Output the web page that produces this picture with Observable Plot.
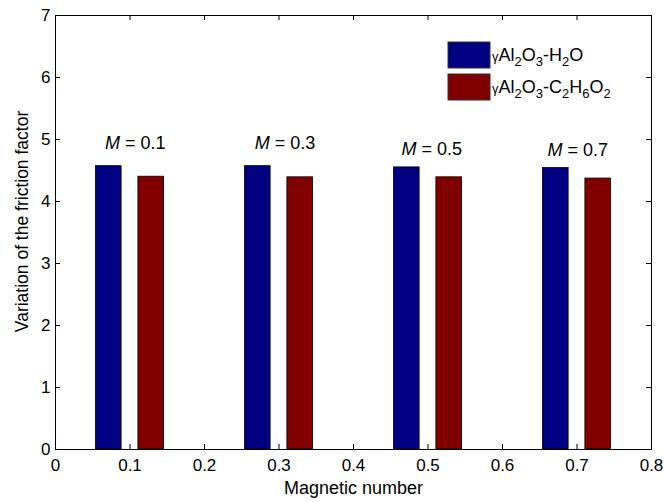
<!DOCTYPE html>
<html>
<head>
<meta charset="utf-8">
<script src="https://cdn.jsdelivr.net/npm/d3@7"></script>
<script src="https://cdn.jsdelivr.net/npm/@observablehq/plot@0.6"></script>
<style>
  html, body { margin: 0; padding: 0; background: #fff; }
  #chart { width: 665px; height: 502px; }
</style>
</head>
<body>
<div id="chart"></div>
<script>
// ---- data ----
const magnetic = [0.1, 0.3, 0.5, 0.7];
const h2o = [4.57, 4.57, 4.55, 4.54];
const eg = [4.40, 4.39, 4.39, 4.37];
const seriesNames = ["γAl2O3-H2O", "γAl2O3-C2H6O2"];
const seriesColors = ["#000080", "#800000"];
const xTicks = [0, 0.1, 0.2, 0.3, 0.4, 0.5, 0.6, 0.7, 0.8];
const yTicks = [0, 1, 2, 3, 4, 5, 6, 7];
const labelM = [0.107, 0.308, 0.505, 0.701];
const labelV = [4.94, 4.94, 4.84, 4.82];

// ---- layout ----
const W = 665, H = 502;
const mL = 55, mR = 14, mT = 15, mB = 53;
const fw = W - mL - mR, fh = H - mT - mB;
const barOffset = 0.0285, barWidth = 0.0345;
const font = "'Liberation Sans', Arial, sans-serif";

const bars = [];
magnetic.forEach((m, i) => {
  bars.push({m, v: h2o[i], s: 0});
  bars.push({m, v: eg[i], s: 1});
});
const labels = magnetic.map((m, i) => ({x: labelM[i], y: labelV[i], t: `M = ${m}`}));

const plot = Plot.plot({
  width: W, height: H,
  marginLeft: mL, marginRight: mR, marginTop: mT, marginBottom: mB,
  style: {fontFamily: font, fontSize: "17px", color: "#000", background: "#fff"},
  x: {domain: [0, 0.8]},
  y: {domain: [0, 7]},
  marks: [
    Plot.rectY(bars, {
      x1: d => d.m + (d.s === 0 ? -barOffset : barOffset) - barWidth / 2,
      x2: d => d.m + (d.s === 0 ? -barOffset : barOffset) + barWidth / 2,
      y1: 0, y2: "v",
      fill: d => seriesColors[d.s], stroke: "#000", strokeWidth: 0.8
    }),
    Plot.axisX({ticks: xTicks, tickSize: 0, tickPadding: 9, fontSize: 17,
      tickFormat: d => String(+d.toFixed(1)), label: null}),
    Plot.axisY({ticks: yTicks, tickSize: 0, tickPadding: 5, fontSize: 17,
      tickFormat: d => String(d), label: null}),
    // inward ticks
    Plot.tickX(xTicks, {x: d => d, insetTop: fh - 5, stroke: "#000"}),
    Plot.tickX(xTicks, {x: d => d, insetBottom: fh - 5, stroke: "#000"}),
    Plot.tickY(yTicks, {y: d => d, insetRight: fw - 5, stroke: "#000"}),
    Plot.tickY(yTicks, {y: d => d, insetLeft: fw - 5, stroke: "#000"}),
    Plot.frame({stroke: "#000", strokeWidth: 1}),
    Plot.text(labels, {x: "x", y: "y", text: "t", fontSize: 18, className: "mlabel"}),
    Plot.text(["Magnetic number"], {frameAnchor: "bottom", dy: 39, fontSize: 18,
      lineAnchor: "middle", textAnchor: "middle"}),
    Plot.text(["Variation of the friction factor"], {frameAnchor: "left", rotate: -90, dx: -33, dy: -11,
      fontSize: 17.5, lineAnchor: "middle", textAnchor: "middle"})
  ]
});

document.getElementById("chart").appendChild(plot);

const svg = d3.select(plot.tagName === "svg" ? plot : plot.querySelector("svg"));

// italic M in labels
svg.selectAll(".mlabel text").each(function(d, i) {
  const t = d3.select(this);
  const txt = labels[i].t.slice(1);
  t.text(null);
  t.append("tspan").attr("font-style", "italic").text("M");
  t.append("tspan").text(txt);
});

// legend with subscripts
function parts(name) {
  const out = [];
  const re = /(\d+)|([^\d]+)/g;
  let m;
  while ((m = re.exec(name))) out.push(m[1] ? [m[1], 1] : [m[2], 0]);
  return out;
}
const lg = svg.append("g").attr("font-family", font).attr("text-anchor", "start");
seriesNames.forEach((name, i) => {
  const y0 = 42 + i * 32;
  lg.append("rect").attr("x", 448).attr("y", y0).attr("width", 42).attr("height", 26)
    .attr("fill", seriesColors[i]).attr("stroke", "#333").attr("stroke-width", 1);
  const t = lg.append("text").attr("x", 492).attr("y", y0 + 19).attr("font-size", 18)
    .attr("fill", "#000").attr("text-anchor", "start");
  let sub = false;
  parts(name).forEach(([s, isSub]) => {
    const ts = t.append("tspan").text(s);
    if (s.startsWith("γ")) {
      ts.text(null);
      ts.append("tspan").attr("font-size", 13).text("γ");
      ts.append("tspan").text(s.slice(1));
    }
    if (isSub && !sub) { ts.attr("dy", 5).attr("font-size", 13); sub = true; }
    else if (!isSub && sub) { ts.attr("dy", -5); sub = false; }
  });
});
</script>
</body>
</html>
